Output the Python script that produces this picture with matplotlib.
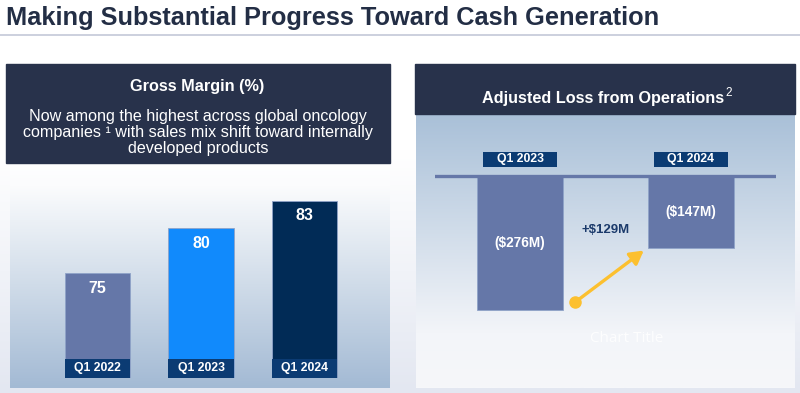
import numpy as np
import matplotlib
matplotlib.use("Agg")
import matplotlib.pyplot as plt
from matplotlib.colors import LinearSegmentedColormap

plt.rcParams['font.family'] = ['Liberation Sans', 'DejaVu Sans']

# Gross margin data
gm_quarters = ["Q1 2022", "Q1 2023", "Q1 2024"]
gm_values = [75, 80, 83]
gm_colors = ["#6577a8", "#118afc", "#012b56"]

# Adjusted loss from operations data ($M)
loss_quarters = ["Q1 2023", "Q1 2024"]
loss_values = [-276, -147]

title = "Making Substantial Progress Toward Cash Generation"
gm_title = "Gross Margin (%)"
gm_sub = ["Now among the highest across global oncology",
          "companies \u00b9 with sales mix shift toward internally",
          "developed products"]
loss_title = "Adjusted Loss from Operations"

W, H = 800, 393
NAVY_HDR = "#28324b"
LABEL_BOX = "#0b3b73"


def gradient(ax, x0, x1, y0, y1, stops):
    cmap = LinearSegmentedColormap.from_list("g", stops)
    g = np.linspace(0, 1, 256).reshape(-1, 1)
    ax.imshow(g, cmap=cmap, extent=(x0, x1, y1, y0), aspect="auto",
              interpolation="bilinear", zorder=0)


fig = plt.figure(figsize=(W / 100, H / 100), dpi=100)
bg = fig.add_axes([0, 0, 1, 1])
bg.set_xlim(0, W)
bg.set_ylim(H, 0)
bg.axis("off")

# slide background and panels
gradient(bg, 0, W, 150, H, [(0, "#ffffff"), (1, "#e3e7f1")])
gradient(bg, 10, 390, 163, 388, [(0, "#ffffff"), (0.1, "#fbfcfd"), (1, "#a3bad4")])
gradient(bg, 416, 795, 114, 388, [(0, "#a9c0d8"), (0.8, "#f3f5f9"), (1, "#f6f7fa")])
bg.set_xlim(0, W)
bg.set_ylim(H, 0)

bg.add_patch(plt.Rectangle((6, 64), 384, 99, color=NAVY_HDR, zorder=1))
bg.add_patch(plt.Rectangle((415, 64), 380, 50, color=NAVY_HDR, zorder=1))

bg.text(6, 18, title, fontsize=18.3, fontweight="bold", color="#232e45",
        ha="left", va="center")
bg.plot([0, W], [35, 35], color="#c3c8d8", lw=1.2)

bg.text(197, 87, gm_title, fontsize=11.7, fontweight="bold", color="white",
        ha="center", va="center")
for i, line in enumerate(gm_sub):
    bg.text(198, 117 + i * 15.7, line, fontsize=11.6, color="white",
            ha="center", va="center")
bg.text(603, 98, loss_title, fontsize=11.7, fontweight="bold", color="white",
        ha="center", va="center")
bg.text(725, 93, "2", fontsize=8.5, color="white", ha="left", va="center")
bg.text(627, 338, "Chart Title", fontsize=11, color="white", alpha=0.85,
        family="Open Sans", ha="center", va="center")

# left: gross margin bars
ax1 = fig.add_axes([46 / W, (H - 378) / H, 310 / W, (378 - 190) / H])
ax1.patch.set_visible(False)
ax1.axis("off")
ax1.set_xlim(-0.5, 2.5)
ax1.set_ylim(63.5, 84.16)
x1 = np.arange(len(gm_values))
ax1.bar(x1, [v - 63.5 for v in gm_values], bottom=63.5, width=0.63,
        color=gm_colors, edgecolor="#8fa3c8", linewidth=0.6, zorder=2)
ax1.bar(x1, 2.1, bottom=63.5, width=0.63, color=LABEL_BOX, zorder=3)
for xi, v, q in zip(x1, gm_values, gm_quarters):
    ax1.annotate(str(v), (xi, v), xytext=(0, -11), textcoords="offset points",
                 ha="center", va="center", color="white", fontsize=11.5,
                 fontweight="bold", zorder=4)
    ax1.text(xi, 63.5 + 1.05, q, ha="center", va="center", color="white",
             fontsize=8.8, fontweight="bold", zorder=4)

# right: adjusted loss bars
ax2 = fig.add_axes([434.75 / W, (H - 330) / H, 341.25 / W, (330 - 140) / H])
ax2.patch.set_visible(False)
ax2.axis("off")
ax2.set_xlim(-0.5, 1.5)
ax2.set_ylim(-316.2, 73.9)
x2 = np.arange(len(loss_values))
ax2.bar(x2, loss_values, width=0.504, color="#6577a8", edgecolor="#8fa3c8",
        linewidth=0.6, zorder=2)
ax2.axhline(0, color="#6577a8", lw=2.4, zorder=3)
ax2.bar(x2, 31, bottom=18.5, width=0.434, color=LABEL_BOX, zorder=3)
for xi, v, q in zip(x2, loss_values, loss_quarters):
    ax2.text(xi, v / 2, f"(${-v}M)", ha="center", va="center", color="white",
             fontsize=9.8, fontweight="bold", zorder=4)
    ax2.text(xi, 34, q, ha="center", va="center", color="white",
             fontsize=8.8, fontweight="bold", zorder=4)

change = loss_values[1] - loss_values[0]
ax2.text(0.5, -111, f"+${change}M", ha="center", va="center", color="#1b3a6b",
         fontsize=9.5, fontweight="bold", zorder=4)
start = (0.323, -259)
end = (0.725, -153)
ax2.annotate("", xy=end, xytext=start,
             arrowprops=dict(arrowstyle="-|>,head_length=0.8,head_width=0.45",
                             color="#fcc02f", lw=2.4, shrinkA=0, shrinkB=0),
             zorder=5)
ax2.plot(*start, "o", color="#fcc02f", markersize=8, zorder=5)

fig.savefig("out.png", dpi=100)
